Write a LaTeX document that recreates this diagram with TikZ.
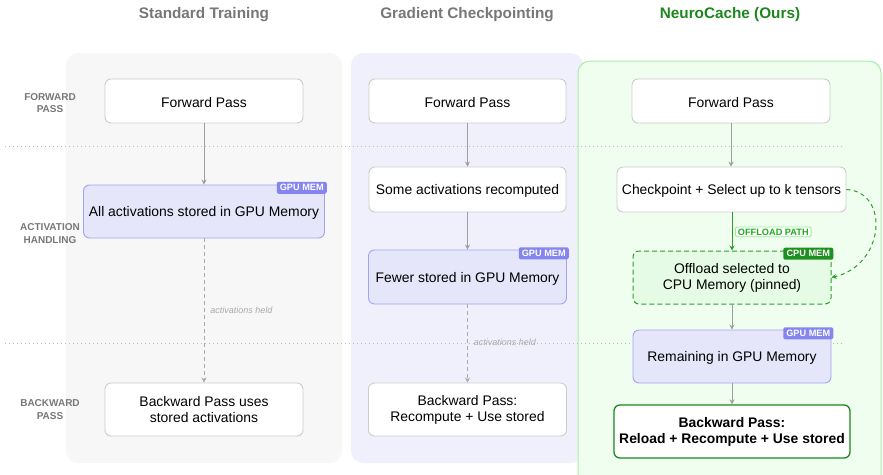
\documentclass[tikz,border=0pt]{standalone}
\usepackage{fontspec}
\setmainfont{Liberation Sans}
\usetikzlibrary{arrows.meta}
\definecolor{bggray}{HTML}{F7F7F7}
\definecolor{bglav}{HTML}{F0F0FC}
\definecolor{bggreen}{HTML}{F0FEF0}
\definecolor{bggreenb}{HTML}{A6EEA6}
\definecolor{boxb}{HTML}{CCCCCC}
\definecolor{lavfill}{HTML}{E6E6FA}
\definecolor{lavb}{HTML}{A3A3F5}
\definecolor{badgeblue}{HTML}{8585F0}
\definecolor{offfill}{HTML}{E6FBE6}
\definecolor{offb}{HTML}{2A9D2A}
\definecolor{cpubadge}{HTML}{1F8F1F}
\definecolor{darkgreen}{HTML}{1E861E}
\definecolor{titlegray}{HTML}{777777}
\definecolor{labgray}{HTML}{777777}
\definecolor{arrgray}{HTML}{9E9E9E}
\definecolor{heldgray}{HTML}{AAAAAA}
\definecolor{pathgreen}{HTML}{22AA22}
\definecolor{pathb}{HTML}{99EE99}
\definecolor{sepgray}{HTML}{BBBBBB}
\begin{document}
\begin{tikzpicture}[x=1pt,y=-1pt,
  boxtext/.style={font=\fontsize{13.9}{16}\selectfont, align=center, inner sep=0pt,
    execute at begin node={\rule{0pt}{13.6pt}}},
  wbox/.style={boxtext, draw=boxb, fill=white, line width=0.9pt, rounded corners=6pt},
  lbox/.style={boxtext, draw=lavb, fill=lavfill, line width=0.9pt, rounded corners=6pt},
  obox/.style={boxtext, draw=offb, fill=offfill, line width=1pt, rounded corners=6pt, dash pattern=on 5pt off 3pt},
  fbox/.style={boxtext, draw=darkgreen, fill=white, line width=1.3pt, rounded corners=6pt, font=\fontsize{13.9}{16}\selectfont\bfseries},
  badge/.style={font=\fontsize{9.2}{10}\selectfont\bfseries, text=white, rounded corners=2pt, inner sep=0pt, minimum width=50pt, minimum height=12pt, anchor=north east},
  coltitle/.style={font=\fontsize{15.3}{18}\selectfont\bfseries, text=titlegray},
  rowlab/.style={font=\fontsize{10}{12.5}\selectfont\bfseries, text=labgray, align=center, inner sep=0pt},
  arr/.style={draw=arrgray, line width=0.9pt, -{Stealth[length=5pt,width=5pt]}},
  darr/.style={draw=heldgray, line width=0.9pt, dash pattern=on 4pt off 3pt, -{Stealth[length=5pt,width=5pt]}},
  garr/.style={draw=offb, line width=1pt, -{Stealth[length=5pt,width=5pt]}},
  held/.style={font=\fontsize{9}{10}\selectfont\itshape, text=heldgray, anchor=west, inner sep=0pt, xshift=6pt},
  sepline/.style={draw=sepgray, line width=0.8pt, dash pattern=on 1pt off 3pt}
]
\useasboundingbox (0,0) rectangle (883,474);
\clip (0,0) rectangle (883,474);
% column backgrounds
\fill[bggray, rounded corners=12pt] (66,53) rectangle (342,463);
\fill[bglav, rounded corners=12pt] (351,53) rectangle (583,463);
\filldraw[fill=bggreen, draw=bggreenb, line width=1pt, rounded corners=12pt] (578,61) rectangle (881,490);
% separators
\coordinate (s1a) at (5,146);
\coordinate (s1b) at (842,146);
\coordinate (s2a) at (5,343);
\coordinate (s2b) at (842,343);
\draw[sepline] (s1a) -- (s1b);
\draw[sepline] (s2a) -- (s2b);
% titles
\node[coltitle] (t1) at (204,14.5) {Standard Training};
\node[coltitle] (t2) at (467,14.5) {Gradient Checkpointing};
\node[coltitle, text=darkgreen] (t3) at (730,14.5) {NeuroCache (Ours)};
% row labels
\node[rowlab] (r1) at (50,103) {FORWARD\\PASS};
\node[rowlab] (r2) at (50,233.5) {ACTIVATION\\HANDLING};
\node[rowlab] (r3) at (50,409.5) {BACKWARD\\PASS};
% column 1
\node[wbox, minimum width=198pt, minimum height=44pt] (f1) at (204,101) {Forward Pass};
\node[lbox, minimum width=241pt, minimum height=53pt] (a1) at (204,211.5) {All activations stored in GPU Memory};
\node[wbox, minimum width=198pt, minimum height=53pt] (b1) at (204,409.5) {Backward Pass uses\\stored activations};
\node[badge, fill=badgeblue] (g1) at ([shift={(2,-3)}]a1.north east) {GPU MEM};
% column 2
\node[wbox, minimum width=197pt, minimum height=44pt] (f2) at (467.5,101) {Forward Pass};
\node[wbox, minimum width=197pt, minimum height=45pt] (s2) at (467.5,189.5) {Some activations recomputed};
\node[lbox, minimum width=198pt, minimum height=54pt] (m2) at (467.5,277) {Fewer stored in GPU Memory};
\node[wbox, minimum width=198pt, minimum height=53pt] (b2) at (467.5,409.5) {Backward Pass:\\Recompute + Use stored};
\node[badge, fill=badgeblue] (g2) at ([shift={(2,-2.5)}]m2.north east) {GPU MEM};
% column 3
\node[wbox, minimum width=198pt, minimum height=44pt] (f3) at (731,101) {Forward Pass};
\node[wbox, minimum width=229pt, minimum height=45pt] (c3) at (731.5,189.5) {Checkpoint + Select up to k tensors};
\node[obox, minimum width=198pt, minimum height=53pt] (o3) at (732,277.5) {Offload selected to\\CPU Memory (pinned)};
\node[lbox, minimum width=198pt, minimum height=53pt] (m3) at (732,356.5) {Remaining in GPU Memory};
\node[fbox, minimum width=236pt, minimum height=53pt] (b3) at (732,431.5) {Backward Pass:\\Reload + Recompute + Use stored};
\node[badge, fill=cpubadge] (g3) at ([shift={(2,-3)}]o3.north east) {CPU MEM};
\node[badge, fill=badgeblue] (g4) at ([shift={(2,-2.5)}]m3.north east) {GPU MEM};
% connectors column 1
\draw[arr] (f1.south) -- (f1.south |- a1.north);
\draw[darr] (a1.south) -- (a1.south |- b1.north) node[held, pos=0.5] (h1) {activations held};
% connectors column 2
\draw[arr] (f2.south) -- (f2.south |- s2.north);
\draw[arr] (s2.south) -- (s2.south |- m2.north);
\draw[darr] (m2.south) -- (m2.south |- b2.north) node[held, pos=0.49] (h2) {activations held};
% connectors column 3
\draw[arr] (f3.south) -- (f3.south |- c3.north);
\draw[garr] (o3.north |- c3.south) -- (o3.north) node[pos=0.51, anchor=west, xshift=3pt, font=\fontsize{9.2}{10}\selectfont\bfseries, text=pathgreen, fill=white, draw=pathb, line width=0.9pt, rounded corners=2pt, inner xsep=2.5pt, inner ysep=1.6pt] (op) {OFFLOAD PATH};
\draw[garr, dash pattern=on 4pt off 3.5pt] (c3.east) .. controls (890,192) and (885,265) .. (o3.east);
\draw[arr] (o3.south) -- (o3.south |- m3.north);
\draw[arr] (m3.south) -- (m3.south |- b3.north);
\end{tikzpicture}
\end{document}
